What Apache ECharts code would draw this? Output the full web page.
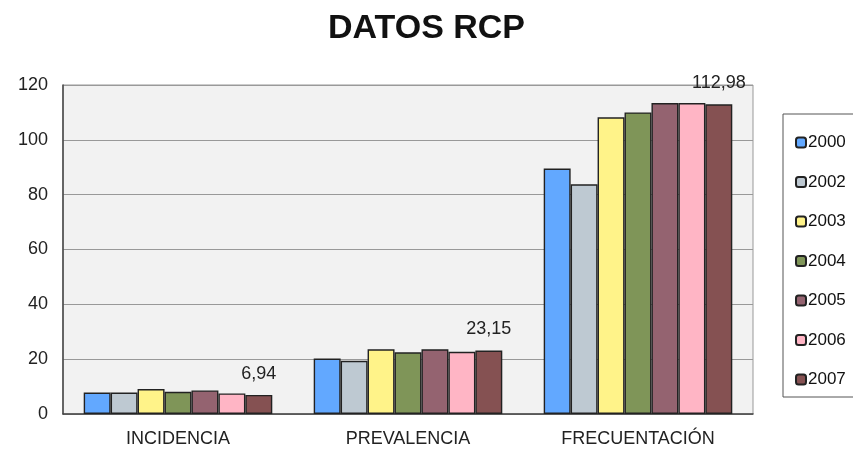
<!DOCTYPE html>
<html>
<head>
<meta charset="utf-8">
<script src="https://cdn.jsdelivr.net/npm/echarts@6/dist/echarts.min.js"></script>
<style>
  html, body { margin: 0; padding: 0; background: #fff; }
  #box { width: 853px; height: 452px; }
</style>
</head>
<body>
<div id="box"></div>
<script>
  // categorias y valores por año
  var categories = ['INCIDENCIA', 'PREVALENCIA', 'FRECUENTACIÓN'];
  var years = ['2000', '2002', '2003', '2004', '2005', '2006', '2007'];
  var v2000 = [7.8, 20.2, 89.5];
  var v2002 = [7.8, 19.4, 83.8];
  var v2003 = [9.1, 23.6, 108.2];
  var v2004 = [8.1, 22.5, 110.0];
  var v2005 = [8.6, 23.6, 113.4];
  var v2006 = [7.5, 22.7, 113.4];
  var v2007 = [6.94, 23.15, 112.98];
  var yTicks = [0, 20, 40, 60, 80, 100, 120];

  var values = [v2000, v2002, v2003, v2004, v2005, v2006, v2007];
  var colors = ['#62a8ff', '#bec9d2', '#fff389', '#7f9558', '#946370', '#ffb5c5', '#855152'];

  var myChart = echarts.init(document.getElementById('box'));
  var option = {
    animation: false,
    title: {
      text: 'DATOS RCP',
      left: 'center',
      top: 7,
      textStyle: { fontFamily: 'Liberation Sans', fontSize: 34, fontWeight: 'bold', color: '#111' }
    },
    legend: {
      orient: 'vertical',
      left: 783,
      top: 114,
      padding: [20, 30, 9, 12],
      itemGap: 22.5,
      itemWidth: 10,
      itemHeight: 10,
      borderColor: '#555',
      borderWidth: 1,
      textStyle: { fontFamily: 'Liberation Sans', fontSize: 17, color: '#111', padding: [0, 0, 0, -3] },
      data: years
    },
    grid: {
      left: 63,
      right: 100,
      top: 85,
      bottom: 38,
      show: true,
      backgroundColor: '#f2f2f2',
      borderColor: '#999',
      borderWidth: 1
    },
    xAxis: {
      type: 'category',
      data: categories,
      axisTick: { show: false },
      axisLine: { lineStyle: { color: '#444', width: 1.5 } },
      axisLabel: { fontFamily: 'Liberation Sans', fontSize: 18, color: '#222', margin: 16 }
    },
    yAxis: {
      type: 'value',
      min: yTicks[0],
      max: yTicks[yTicks.length - 1],
      interval: 20,
      axisLine: { show: true, lineStyle: { color: '#444', width: 1.5 } },
      axisTick: { show: false },
      axisLabel: { fontFamily: 'Liberation Sans', fontSize: 18, color: '#222', margin: 15 },
      splitLine: { lineStyle: { color: '#999', width: 1.2 } }
    },
    series: years.map(function (y, i) {
      return {
        name: y,
        type: 'bar',
        barGap: '0%',
        barCategoryGap: '18%',
        data: values[i],
        itemStyle: { color: colors[i], borderColor: '#222', borderWidth: 1.4 },
        label: {
          show: i === years.length - 1,
          position: 'top',
          distance: 12,
          fontFamily: 'Liberation Sans',
          fontSize: 18,
          color: '#222',
          formatter: function (p) { return String(p.value).replace('.', ','); }
        }
      };
    })
  };
  myChart.setOption(option);
</script>
</body>
</html>
